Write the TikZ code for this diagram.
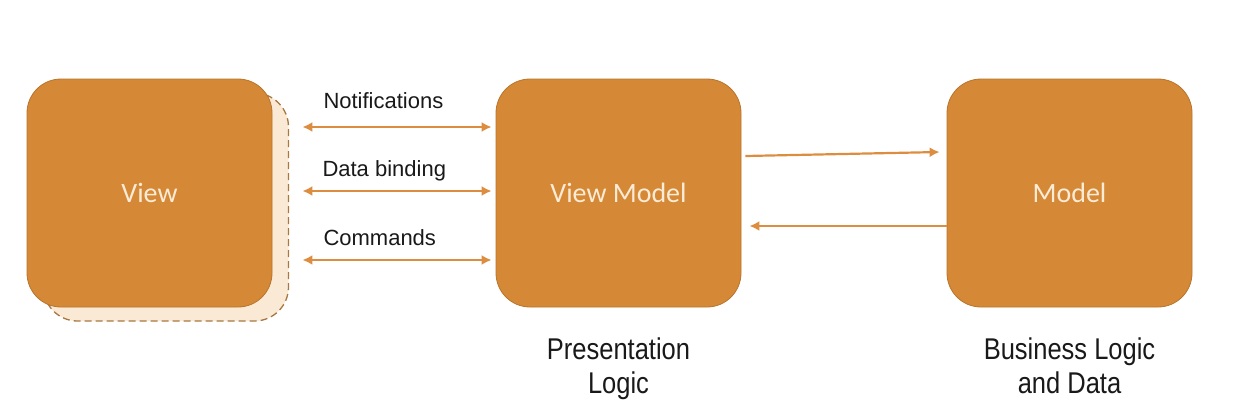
\documentclass[tikz,border=0pt]{standalone}
\usepackage{fontspec}
\setmainfont{Liberation Sans}
\newfontfamily\boxfont{Carlito}
\newfontfamily\narrowfont{Liberation Sans}[FakeStretch=0.85]
\usetikzlibrary{positioning,calc}
\usetikzlibrary{arrows.meta}
\definecolor{boxorange}{HTML}{D58936}
\definecolor{boxedge}{HTML}{B8742A}
\definecolor{boxtext}{HTML}{FCEBD6}
\definecolor{backfill}{HTML}{FAE9D5}
\definecolor{backedge}{HTML}{A87840}
\definecolor{arrorange}{HTML}{DC8D40}
\tikzset{arrow/.style={line width=2.2pt,draw=arrorange,-{Latex[length=10pt,width=10pt]}}}

\begin{document}
\begin{tikzpicture}[x=1pt,y=-1pt,
	layer/.style={rectangle, rounded corners=34pt, minimum width=245pt, minimum height=228pt, fill=boxorange, draw=boxedge, line width=0.8pt, text=boxtext, font=\boxfont\fontsize{28}{32}\selectfont},
	flow/.style={font=\fontsize{22}{26}\selectfont, text=black!90, inner sep=0pt},
	role/.style={align=center, font=\narrowfont\fontsize{30}{34}\selectfont, text=black!90, inner sep=0pt}]
	\useasboundingbox (0,0) rectangle (1236,416);
	
	% LAYERS
	
	\node [layer, fill=backfill, draw=backedge, dash pattern=on 7pt off 4pt, line width=1.3pt] (viewback) at (166,207) {};
	\node [layer] (view) at (149.5,193) {View};
	\node [layer] (viewmodel) at (618.5,193) {View Model};
	\node [layer] (model) at (1069.5,193) {Model};
	
	% BINDINGS
	
	\draw [arrow, {Latex[length=10pt,width=10pt]}-{Latex[length=10pt,width=10pt]}] ([xshift=30pt,yshift=66pt]view.east) -- ([xshift=-4pt,yshift=66pt]viewmodel.west)
		node [flow, pos=0, anchor=base west, xshift=20pt, yshift=19pt] (notif) {Notifications};
	\draw [arrow, {Latex[length=10pt,width=10pt]}-{Latex[length=10pt,width=10pt]}] ([xshift=30pt,yshift=2pt]view.east) -- ([xshift=-4pt,yshift=2pt]viewmodel.west)
		node [flow, pos=0, anchor=base west, xshift=19pt, yshift=15pt] (binding) {Data binding};
	\draw [arrow, {Latex[length=10pt,width=10pt]}-{Latex[length=10pt,width=10pt]}] ([xshift=30pt,yshift=-67pt]view.east) -- ([xshift=-4pt,yshift=-67pt]viewmodel.west)
		node [flow, pos=0, anchor=base west, xshift=20pt, yshift=15pt] (cmds) {Commands};
	
	\draw [arrow] ([xshift=4pt,yshift=37pt]viewmodel.east) -- ([xshift=-7pt,yshift=41pt]model.west);
	\draw [arrow] ([yshift=-33pt]model.west) -- ([xshift=8pt,yshift=-33pt]viewmodel.east);
	
	% ROLES
	
	\node [role, below=30pt of viewmodel] (presentation) {Presentation\\Logic};
	\node [role, below=30pt of model] (business) {Business Logic\\and Data};
	
\end{tikzpicture}
\end{document}
